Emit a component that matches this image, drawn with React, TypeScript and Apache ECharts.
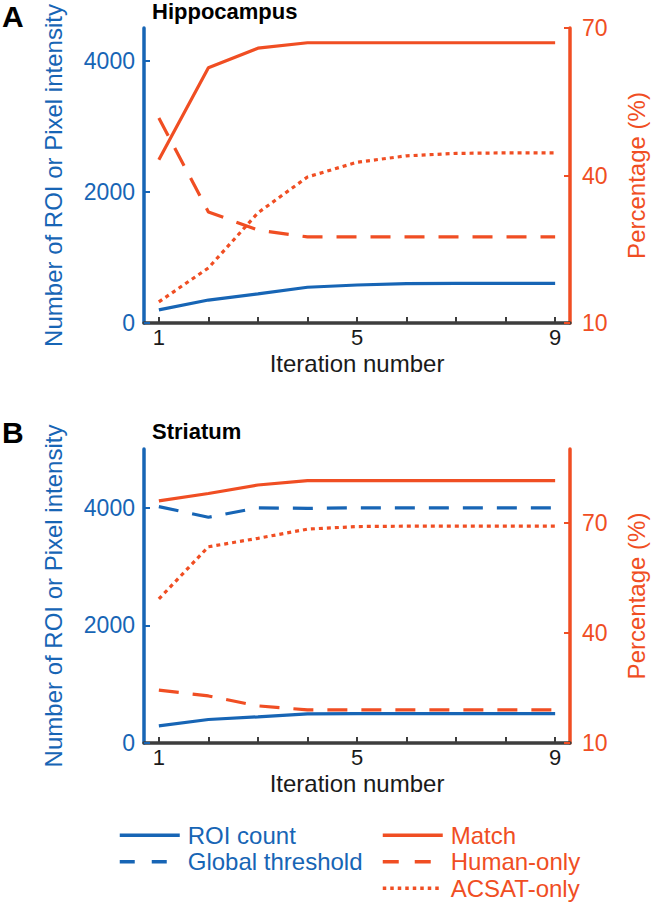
import React, { useEffect, useRef } from "react";
import * as echarts from "echarts";

const iterations = [1, 2, 3, 4, 5, 6, 7, 8, 9];
const xTickValues = [1, 2, 3, 4, 5, 6, 7, 8, 9];
const xLabelValues = [1, 5, 9];
const leftTickValues = [0, 2000, 4000];
const rightTickValues = [10, 40, 70];

// Hippocampus
const hippoROI = [200, 350, 445, 545, 580, 600, 605, 605, 605];
const hippoMatch = [43.2, 61.9, 65.9, 67.0, 67.0, 67.0, 67.0, 67.0, 67.0];
const hippoHuman = [51.7, 32.6, 28.9, 27.5, 27.5, 27.5, 27.5, 27.5, 27.5];
const hippoACSAT = [14.3, 21.2, 32.4, 39.7, 42.7, 44.0, 44.5, 44.6, 44.6];

// Striatum
const striROI = [290, 400, 445, 495, 500, 500, 500, 500, 500];
const striGlobal = [4020, 3840, 4000, 3990, 4000, 4000, 4000, 4000, 4000];
const striMatch = [75.9, 77.9, 80.2, 81.4, 81.4, 81.4, 81.4, 81.4, 81.4];
const striHuman = [24.4, 22.8, 20.1, 19.0, 19.0, 19.0, 19.0, 19.0, 19.0];
const striACSAT = [49.2, 63.4, 65.7, 68.2, 68.9, 69.0, 69.0, 69.0, 69.0];

const BLUE = "#1765B5";
const ORANGE = "#F04E23";
const DARK = "#3d3d3d";
const TEXT = "#1a1a1a";
const FONT = "'Liberation Sans', Arial, Helvetica, sans-serif";

const pts = (vals: number[]) => iterations.map((x, i) => [x, vals[i]]);
const plain = (v: number) => String(v);

function xAxisCfg(gridIndex: number) {
  return {
    type: "value",
    gridIndex,
    min: 0.7,
    max: 9.3,
    name: "Iteration number",
    nameLocation: "middle",
    nameGap: 28,
    nameMoveOverlap: false,
    nameTextStyle: { color: TEXT, fontSize: 24, fontFamily: FONT },
    axisLine: { show: true, onZero: false, lineStyle: { color: DARK, width: 3.5 } },
    axisTick: {
      show: true,
      inside: true,
      length: 6,
      customValues: xTickValues,
      lineStyle: { color: DARK, width: 2 },
    },
    axisLabel: {
      customValues: xLabelValues,
      formatter: plain,
      color: TEXT,
      fontSize: 22,
      fontFamily: FONT,
      margin: 3,
    },
    splitLine: { show: false },
  };
}

function leftAxisCfg(gridIndex: number, max: number) {
  return {
    type: "value",
    gridIndex,
    position: "left",
    min: 0,
    max,
    name: "Number of ROI or Pixel intensity",
    nameLocation: "middle",
    nameGap: 79,
    nameMoveOverlap: false,
    nameTextStyle: { color: BLUE, fontSize: 24, fontFamily: FONT },
    axisLine: { show: true, onZero: false, lineStyle: { color: BLUE, width: 3.5 } },
    axisTick: {
      show: true,
      inside: true,
      length: 6,
      customValues: leftTickValues,
      lineStyle: { color: BLUE, width: 2 },
    },
    axisLabel: {
      customValues: leftTickValues,
      formatter: plain,
      color: BLUE,
      fontSize: 23,
      fontFamily: FONT,
      margin: 9,
    },
    splitLine: { show: false },
  };
}

function rightAxisCfg(gridIndex: number, max: number) {
  return {
    type: "value",
    gridIndex,
    position: "right",
    min: 10,
    max,
    name: "Percentage (%)",
    nameLocation: "middle",
    nameGap: 54,
    nameMoveOverlap: false,
    nameTextStyle: { color: ORANGE, fontSize: 24, fontFamily: FONT },
    axisLine: { show: true, onZero: false, lineStyle: { color: ORANGE, width: 3.5 } },
    axisTick: {
      show: true,
      inside: true,
      length: 6,
      customValues: rightTickValues,
      lineStyle: { color: ORANGE, width: 2 },
    },
    axisLabel: {
      customValues: rightTickValues,
      formatter: plain,
      color: ORANGE,
      fontSize: 23,
      fontFamily: FONT,
      margin: 12,
    },
    splitLine: { show: false },
  };
}

const DASH = [20, 14];
const DOT = [4, 4];

function line(name: string, vals: number[], xi: number, yi: number, color: string, type: any) {
  return {
    type: "line",
    name,
    xAxisIndex: xi,
    yAxisIndex: yi,
    data: pts(vals),
    symbol: "none",
    showSymbol: false,
    lineStyle: { color, width: 3.2, type, cap: "butt" },
    itemStyle: { color },
  };
}

export default function App() {
  const ref = useRef<HTMLDivElement>(null);
  useEffect(() => {
    if (!ref.current) return;
    const chart = echarts.init(ref.current, undefined, { renderer: "svg" });
    chart.setOption({
      animation: false,
      backgroundColor: "#ffffff",
      textStyle: { fontFamily: FONT },
      title: [
        { text: "A", left: 2, top: 1, padding: 0, textStyle: { fontSize: 30, fontWeight: "bold", color: "#000", fontFamily: FONT } },
        { text: "Hippocampus", left: 152, top: 0, padding: 0, textStyle: { fontSize: 22, fontWeight: "bold", color: "#000", fontFamily: FONT } },
        { text: "B", left: 2, top: 417, padding: 0, textStyle: { fontSize: 30, fontWeight: "bold", color: "#000", fontFamily: FONT } },
        { text: "Striatum", left: 152, top: 420, padding: 0, textStyle: { fontSize: 22, fontWeight: "bold", color: "#000", fontFamily: FONT } },
      ],
      grid: [
        { left: 144, right: 73, top: 28, height: 295 },
        { left: 144, right: 73, top: 449, height: 294 },
      ],
      xAxis: [xAxisCfg(0), xAxisCfg(1)],
      yAxis: [
        leftAxisCfg(0, 4500),
        rightAxisCfg(0, 70),
        leftAxisCfg(1, 5000),
        rightAxisCfg(1, 90),
      ],
      legend: [
        {
          orient: "vertical",
          left: 118,
          top: 822,
          padding: 0,
          itemGap: 0,
          itemWidth: 60,
          itemHeight: 14,
          selectedMode: false,
          itemStyle: { opacity: 0 },
          lineStyle: { width: 3.5 },
          textStyle: { color: BLUE, fontSize: 24, fontFamily: FONT, lineHeight: 26.5, padding: [0, 0, 0, 3] },
          data: [
            { name: "ROI count" },
            { name: "Global threshold", lineStyle: { type: [15, 17] } },
          ],
        },
        {
          orient: "vertical",
          left: 381,
          top: 822,
          padding: 0,
          itemGap: 0,
          itemWidth: 60,
          itemHeight: 14,
          selectedMode: false,
          itemStyle: { opacity: 0 },
          lineStyle: { width: 3.5 },
          textStyle: { color: ORANGE, fontSize: 24, fontFamily: FONT, lineHeight: 26.5, padding: [0, 0, 0, 3] },
          data: [
            { name: "Match" },
            { name: "Human-only", lineStyle: { type: [16, 16] } },
            { name: "ACSAT-only", lineStyle: { type: [3.5, 4] } },
          ],
        },
      ],
      series: [
        line("ROI count", hippoROI, 0, 0, BLUE, "solid"),
        line("Match", hippoMatch, 0, 1, ORANGE, "solid"),
        line("Human-only", hippoHuman, 0, 1, ORANGE, DASH),
        line("ACSAT-only", hippoACSAT, 0, 1, ORANGE, DOT),
        line("ROI count", striROI, 1, 2, BLUE, "solid"),
        line("Global threshold", striGlobal, 1, 2, BLUE, DASH),
        line("Match", striMatch, 1, 3, ORANGE, "solid"),
        line("Human-only", striHuman, 1, 3, ORANGE, DASH),
        line("ACSAT-only", striACSAT, 1, 3, ORANGE, DOT),
      ],
    });
    return () => chart.dispose();
  }, []);
  return (
    <div
      ref={ref}
      style={{ position: "absolute", left: 0, top: 0, width: 656, height: 902 }}
    />
  );
}
